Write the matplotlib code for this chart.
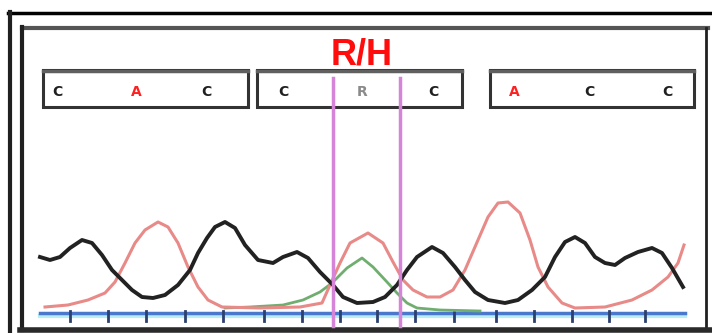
import matplotlib.pyplot as plt
from matplotlib.patches import Rectangle

# trace samples (x in scan units, y = signal height in px from top)
black_x = [40, 50, 60, 70, 82, 92, 102, 112, 122, 132, 142, 153, 165, 178, 190, 198, 207, 215,
           225, 235, 245, 258, 273, 283, 297, 308, 320, 333, 343, 357, 373, 385, 397, 407, 417,
           432, 443, 455, 465, 475, 488, 505, 518, 532, 545, 555, 565, 575, 585, 595, 605, 615,
           625, 638, 652, 662, 672, 683]
black_y = [257, 260, 257, 248, 240, 243, 255, 270, 280, 290, 297, 298, 295, 285, 270, 253, 238, 227,
           222, 228, 245, 260, 263, 257, 252, 258, 272, 285, 297, 303, 302, 297, 285, 270, 257,
           247, 253, 267, 280, 292, 300, 303, 300, 290, 277, 257, 242, 237, 243, 257, 263, 265,
           258, 252, 248, 253, 268, 287]

red_x = [45, 68, 88, 105, 115, 125, 135, 145, 158, 168, 178, 188, 198, 208, 222, 260, 300, 322,
         330, 340, 350, 368, 383, 393, 403, 413, 427, 440, 453, 465, 478, 488, 498, 508, 520,
         530, 538, 548, 562, 575, 605, 632, 652, 668, 678, 684]
red_y = [307, 305, 300, 293, 282, 263, 243, 230, 222, 227, 243, 267, 287, 300, 307, 308, 307, 303,
         285, 263, 243, 233, 243, 262, 280, 290, 297, 297, 290, 270, 240, 217, 203, 202, 213,
         240, 267, 287, 303, 308, 307, 300, 290, 277, 263, 245]

green_x = [225, 250, 283, 303, 320, 332, 347, 362, 373, 387, 397, 407, 417, 440, 480]
green_y = [308, 307, 305, 300, 292, 283, 268, 258, 267, 282, 293, 303, 308, 310, 311]

tick_x = [70, 108, 146, 185, 223, 264, 302, 340, 377, 415, 454, 496, 534, 572, 609, 645]

# base calls in the three codon boxes
codon_boxes = [(43, 248), (257, 462), (490, 694)]
bases = [["C", "A", "C"], ["C", "R", "C"], ["A", "C", "C"]]
base_x = [[57, 136, 206], [283, 362, 433], [514, 589, 667]]
base_colors = {"A": "#ff2020", "C": "#202020", "R": "#8a8a8a"}
marker_x = [333, 400]
label = "R/H"

fig = plt.figure(figsize=(7.12, 3.33), dpi=100)
ax = fig.add_axes([0, 0, 1, 1])
ax.set_xlim(0, 712)
ax.set_ylim(333, 0)
ax.axis("off")

# frames
ax.plot([8, 712], [13, 13], color="black", lw=2.5)
ax.plot([10, 10], [12, 333], color="#202020", lw=3)
ax.plot([22, 708], [28, 28], color="#555555", lw=3)
ax.plot([22, 22], [27, 330], color="#202020", lw=3)
ax.plot([706, 706], [28, 330], color="#202020", lw=2)
ax.plot([20, 712], [330, 330], color="#2a2a2a", lw=4)

# codon boxes and base letters
for (x0, x1), letters, xs in zip(codon_boxes, bases, base_x):
    ax.add_patch(Rectangle((x0, 70), x1 - x0, 37, fill=False, edgecolor="#333333", lw=2.2))
    ax.plot([x0, x1], [70.5, 70.5], color="#606060", lw=2.5)
    for b, x in zip(letters, xs):
        ax.text(x, 92, b, color=base_colors[b], fontsize=10, fontweight="bold",
                ha="center", va="center", family="DejaVu Sans")

ax.text(362, 55, label, color="#ff0d0d", fontsize=26, fontweight="bold",
        ha="center", va="center", family="Liberation Sans")

# baseline and scan ticks
ax.plot([40, 685], [316, 316], color="#b8eef5", lw=3, zorder=1)
ax.plot([40, 685], [313, 313], color="#4a78cc", lw=2.5, zorder=2)
for x in tick_x:
    ax.plot([x, x], [311, 321], color="#2c3f6e", lw=2, zorder=3)

# traces
ax.plot(green_x, green_y, color="#6fae6f", lw=2, zorder=4, solid_joinstyle="round")
ax.plot(red_x, red_y, color="#e88a88", lw=2.2, zorder=5, solid_joinstyle="round")
ax.plot(black_x, black_y, color="#222222", lw=2.8, zorder=6, solid_joinstyle="round")

# mutation markers
for x in marker_x:
    ax.plot([x, x], [78, 326], color="#d584d8", lw=2.5, zorder=7)

fig.savefig("out.png", dpi=100)
